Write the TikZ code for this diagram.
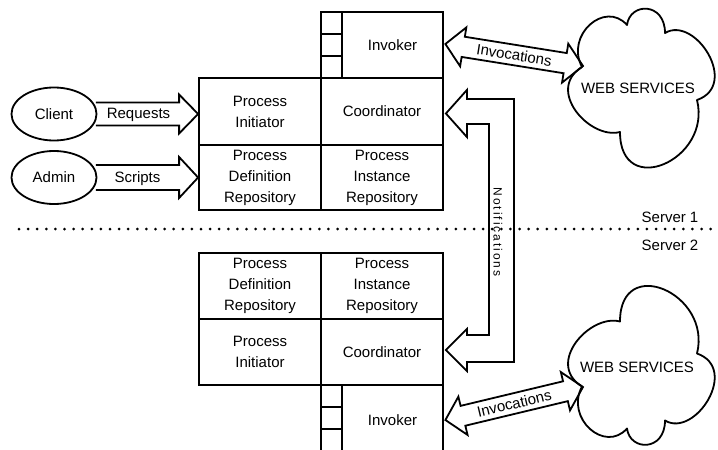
\documentclass[tikz,border=0pt]{standalone}
\usepackage{fontspec}
\setmainfont{Liberation Sans}
\usetikzlibrary{calc,shapes.arrows,shapes.geometric}
\begin{document}
\begin{tikzpicture}[x=1pt,y=-1pt,
  every node/.style={font=\fontsize{15}{21}\selectfont},
  box/.style={draw, line width=1.8pt, minimum width=122pt, align=center, inner sep=0pt},
  sqbox/.style={draw, line width=1.8pt, minimum width=21pt, minimum height=22pt, inner sep=0pt},
  actor/.style={draw, ellipse, line width=1.8pt, minimum width=85pt, minimum height=53pt, inner sep=0pt},
  fat/.style={draw, line width=1.8pt, line join=miter},
  cloudline/.style={draw, line width=1.8pt, line join=round},
  dbl/.style={double arrow, draw, line width=1.8pt, double arrow head extend=9.5pt,
    double arrow tip angle=95, inner xsep=0pt, inner ysep=3.8pt},
  dotline/.style={line width=3pt, line cap=round, dash pattern=on 0pt off 9.1pt}]
\useasboundingbox (0,0) rectangle (718,450);
\clip (0,0) rectangle (718,450);

% ---------- Server 1 ----------
\node[box, minimum width=101pt, minimum height=66pt] (inv1) at (392.5,45) {Invoker};
\node[sqbox] (s1a) at (331.5,23) {};
\node[sqbox] (s1b) at (331.5,45) {};
\node[sqbox] (s1c) at (331.5,67) {};
\node[box, minimum height=67pt] (pi1) at (260,111.5) {Process\\Initiator};
\node[box, minimum height=67pt] (co1) at (382,111.5) {Coordinator};
\node[box, minimum height=65pt] (pd1) at (260,177.5) {Process\\Definition\\Repository};
\node[box, minimum height=65pt] (pr1) at (382,177.5) {Process\\Instance\\Repository};

\node[actor] (client) at (54,114) {Client};
\node[actor] (admin) at (54,177.5) {Admin};

\coordinate (rtip) at (pi1.west |- client.east);
\draw[fat] ($(client.east)+(-1.5,-11.5)$) -- ($(rtip)+(-19,-11.5)$) -- ($(rtip)+(-19,-19.5)$)
  -- (rtip) -- ($(rtip)+(-19,19.5)$) -- ($(rtip)+(-19,11.5)$) -- ($(client.east)+(-1.5,11.5)$);
\node (req) at (138.5,114.5) {Requests};

\coordinate (stip) at (pd1.west |- admin.east);
\draw[fat] ($(admin.east)+(-1.5,-12.5)$) -- ($(stip)+(-19,-12.5)$) -- ($(stip)+(-19,-20.5)$)
  -- (stip) -- ($(stip)+(-19,20.5)$) -- ($(stip)+(-19,12.5)$) -- ($(admin.east)+(-1.5,12.5)$);
\node (scr) at (137.5,179) {Scripts};

% cloud 1
\begin{scope}[shift={(643,87)}]
\draw[cloudline] (-61,-20) .. controls (-78,-52) and (-38,-87) .. (-16,-62)
  .. controls (-13,-85) and (22,-85) .. (22,-54)
  .. controls (52,-72) and (97,-2) .. (54,13)
  .. controls (69,73) and (-23,113) .. (-23,45)
  .. controls (-53,53) and (-98,3) .. (-61,-20) -- cycle;
\end{scope}
\node (ws1) at (638,88) {WEB SERVICES};
\coordinate (cn1) at (583,66);
\coordinate (ia1) at ($(inv1.east)+(1.5,-1)$);
\path let \p1=(ia1), \p2=(cn1), \n1={atan2(\y2-\y1,\x2-\x1)}, \n2={veclen(\x2-\x1,\y2-\y1)} in
  node[dbl, rotate=\n1, minimum height=\n2] (invc1) at ($(ia1)!0.5!(cn1)$) {Invocations};

% ---------- Server 2 ----------
\node[box, minimum height=66pt] (pd2) at (260,286) {Process\\Definition\\Repository};
\node[box, minimum height=66pt] (pr2) at (382,286) {Process\\Instance\\Repository};
\node[box, minimum height=66pt] (pi2) at (260,352) {Process\\Initiator};
\node[box, minimum height=66pt] (co2) at (382,352) {Coordinator};
\node[box, minimum width=101pt, minimum height=70pt] (inv2) at (392.5,420) {Invoker};
\node[sqbox] (s2a) at (331.5,396) {};
\node[sqbox] (s2b) at (331.5,418) {};
\node[sqbox] (s2c) at (331.5,440) {};

% cloud 2
\begin{scope}[shift={(643,366.5)}, yscale=-1]
\draw[cloudline] (-61,-20) .. controls (-78,-52) and (-38,-87) .. (-16,-62)
  .. controls (-13,-85) and (22,-85) .. (22,-54)
  .. controls (52,-72) and (97,-2) .. (54,13)
  .. controls (69,73) and (-23,113) .. (-23,45)
  .. controls (-53,53) and (-98,3) .. (-61,-20) -- cycle;
\end{scope}
\node (ws2) at (637,367) {WEB SERVICES};
\coordinate (cn2) at (583,387);
\coordinate (ia2) at ($(inv2.east)+(1.5,0)$);
\path let \p1=(ia2), \p2=(cn2), \n1={atan2(\y2-\y1,\x2-\x1)}, \n2={veclen(\x2-\x1,\y2-\y1)} in
  node[dbl, rotate=\n1, minimum height=\n2] (invc2) at ($(ia2)!0.5!(cn2)$) {Invocations};

% ---------- Notifications ----------
\coordinate (nt1) at ($(co1.east)+(2,2)$);
\coordinate (nt2) at ($(co2.east)+(2,-2)$);
\draw[fat] (nt1) -- ($(nt1)+(21,-23.5)$) -- ($(nt1)+(21,-14.5)$) -- ($(nt1)+(68,-14.5)$)
  -- ($(nt2)+(68,12)$) -- ($(nt2)+(21,12)$) -- ($(nt2)+(21,21)$) -- (nt2)
  -- ($(nt2)+(21,-21)$) -- ($(nt2)+(21,-15)$) -- ($(nt2)+(43,-15)$)
  -- ($(nt1)+(43,10.5)$) -- ($(nt1)+(21,10.5)$) -- ($(nt1)+(21,23.5)$) -- cycle;
\node[rotate=-90, font=\fontsize{12}{14}\selectfont\addfontfeature{LetterSpace=16}] (notif) at (498,232) {Notifications};

% ---------- separator ----------
\coordinate (dl1) at (19,229);
\coordinate (dl2) at (716,229);
\draw[dotline] (dl1) -- (dl2);
\node (srv1) at (670,217) {Server 1};
\node (srv2) at (670,245) {Server 2};
\end{tikzpicture}
\end{document}
